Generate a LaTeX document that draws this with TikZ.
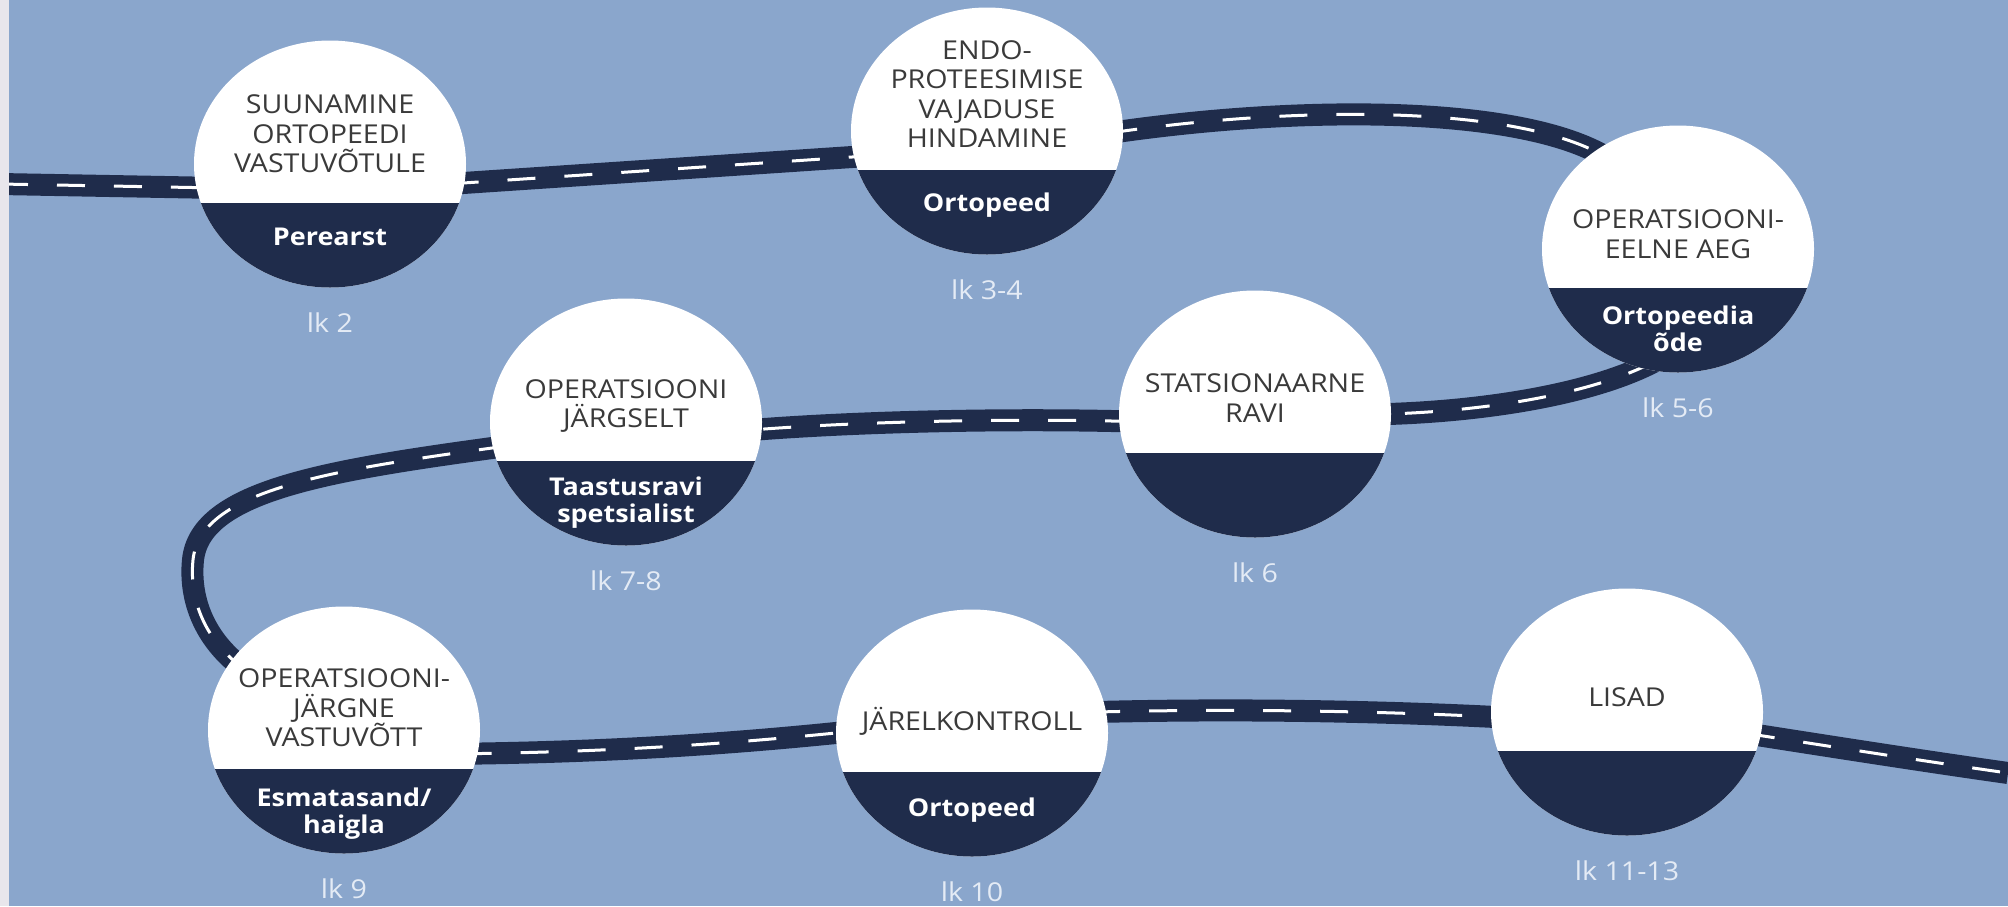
\documentclass[tikz,border=0pt]{standalone}
\usepackage{fontspec}
\setmainfont{Open Sans}[FakeStretch=1.1]
\usetikzlibrary{shapes.geometric,backgrounds}
\definecolor{bgblue}{RGB}{138,166,204}
\definecolor{navy}{RGB}{31,44,75}
\definecolor{inkgray}{RGB}{58,58,58}
\definecolor{pagewhite}{RGB}{228,235,245}
\definecolor{edgegray}{RGB}{232,230,236}
\tikzset{
  station/.style={ellipse, fill=white, minimum width=272pt, minimum height=247pt, inner sep=0pt,
    path picture={\fill[navy] ([yshift=-39pt]path picture bounding box.west) rectangle (path picture bounding box.south east);}},
  toptext/.style={text=inkgray, align=center, inner sep=0pt, font=\fontsize{26}{29.5}\selectfont},
  roletext/.style={text=white, align=center, inner sep=0pt, font=\fontsize{24.5}{27}\selectfont\bfseries},
  pagetext/.style={text=pagewhite, inner sep=0pt, font=\fontsize{26}{30}\selectfont},
  road/.style={draw=navy, line width=22pt, postaction={draw=white, line width=3pt, dash pattern=on 28pt off 29pt}},
  dive/.style={shorten <=-14pt, shorten >=-14pt}
}
\begin{document}
\begin{tikzpicture}[x=1pt,y=-1pt]
\useasboundingbox (0,0) rectangle (2008,906);
\foreach \n/\x/\y/\dy/\dr/\stage/\who/\pg in {
  s1/330/164/30/73/{SUUNAMINE\\ORTOPEEDI\\VASTUVÕTULE}/Perearst/lk 2,
  s2/987/131/37/74/{ENDO-\\PROTEESIMISE\\VAJADUSE\\HINDAMINE}/Ortopeed/lk 3-4,
  s3/1678/249/15/80/{OPERATSIOONI-\\EELNE AEG}/{Ortopeedia\\õde}/lk 5-6,
  s4/1255/414/16/80/{STATSIONAARNE\\RAVI}/{}/lk 6,
  s5/626/422/16/81/{OPERATSIOONI\\JÄRGSELT}/{Taastusravi\\spetsialist}/lk 7-8,
  s6/344/730/22/84/{OPERATSIOONI-\\JÄRGNE\\VASTUVÕTT}/{Esmatasand/\\haigla}/lk 9,
  s7/972/733/12/77/{JÄRELKONTROLL}/Ortopeed/lk 10,
  s8/1627/712/15/80/{LISAD}/{}/lk 11-13} {
  \node[station] (\n) at (\x,\y) {};
  \node[toptext] (\n top) at ([yshift=\dy pt]\n.center) {\stage};
  \node[roletext] (\n role) at ([yshift=-\dr pt]\n.center) {\who};
  \node[pagetext] (\n page) at ([yshift=-159pt]\n.center) {\pg};
}
\begin{pgfonlayer}{background}
\fill[bgblue] (0,0) rectangle (2008,906);
\coordinate (roadin) at (0,184);
\coordinate (roadout) at (2008,773);
\draw[road, shorten >=-14pt] (roadin) -- (s1.190);
\draw[road, dive] (s1.352) -- (s2.191);
\draw[road, dive] (s2.east) .. controls (1300,105) and (1520,105) .. (s3.130);
\draw[road, dive] (s3.253) .. controls (1590,395) and (1480,412) .. (s4.east);
\draw[road, dive] (s4.183) .. controls (1000,418) and (850,422) .. (s5.357);
\draw[road, dive] (s5.191) .. controls (330,470) and (200,490) .. (193,560) .. controls (189,600) and (205,640) .. (s6.148);
\draw[road, dive] (s6.350) .. controls (600,752) and (720,745) .. (s7.west);
\draw[road, dive] (s7.9) .. controls (1250,708) and (1400,712) .. (s8.182);
\draw[road, shorten <=-14pt] (s8.350) .. controls (1840,748) and (1930,762) .. (roadout);
\fill[edgegray] (0,0) rectangle (9,906);
\end{pgfonlayer}
\end{tikzpicture}
\end{document}
